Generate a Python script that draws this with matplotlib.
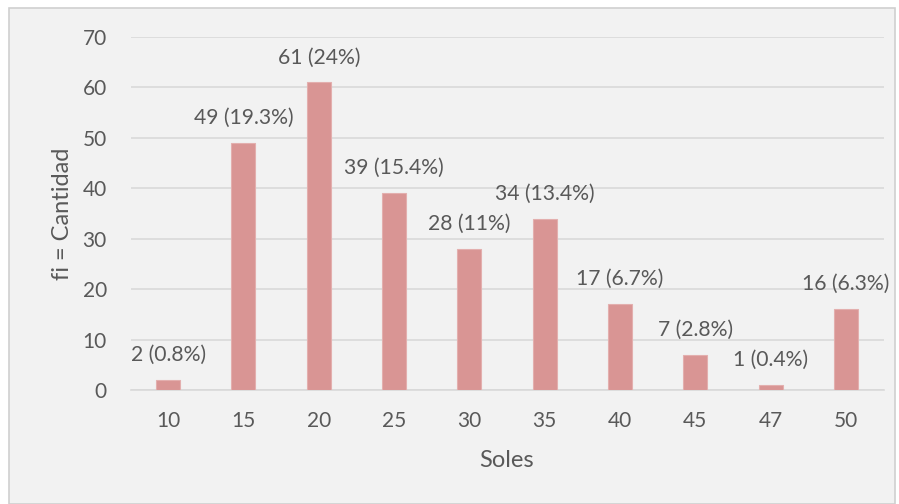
#!/usr/bin/env python3
# Bar chart de frecuencias (fi) por monto en soles, estilo Excel.
import matplotlib

matplotlib.use("Agg")
import matplotlib.pyplot as plt
from matplotlib.patches import Rectangle

categorias = ["10", "15", "20", "25", "30", "35", "40", "45", "47", "50"]
cantidades = [2, 49, 61, 39, 28, 34, 17, 7, 1, 16]
porcentajes = ["0.8%", "19.3%", "24%", "15.4%", "11%", "13.4%", "6.7%", "2.8%", "0.4%", "6.3%"]
y_ticks = [0, 10, 20, 30, 40, 50, 60, 70]

BAR_COLOR = "#D99594"
TEXT_COLOR = "#595959"
GRID_COLOR = "#D9D9D9"
BG_COLOR = "#F2F2F2"

plt.rcParams["font.family"] = ["Lato", "DejaVu Sans"]

W, H = 899, 504
fig = plt.figure(figsize=(W / 100, H / 100), dpi=100)
fig.patch.set_facecolor("white")

# marco gris claro del area del grafico
marco = Rectangle((9 / W, 0), (895 - 9) / W, (H - 8) / H, transform=fig.transFigure,
                  facecolor=BG_COLOR, edgecolor="#D0D0D0", linewidth=1.2, zorder=-5)
fig.add_artist(marco)

ax = fig.add_axes([130.5 / W, (H - 390) / H, 753 / W, (390 - 37) / H])
ax.set_facecolor("none")
ax.set_zorder(2)

x = list(range(len(categorias)))
ax.bar(x, cantidades, width=0.32, color=BAR_COLOR, edgecolor="#E3AFAE",
       linewidth=0.8, zorder=3)

for xi, val, pct in zip(x, cantidades, porcentajes):
    ax.annotate(f"{val} ({pct})", (xi, val), xytext=(0, 25), textcoords="offset pixels",
                ha="center", va="center", fontsize=15.2, color=TEXT_COLOR, zorder=4)

ax.set_xlim(-0.5, len(categorias) - 0.5)
ax.set_ylim(0, 70)
ax.set_yticks(y_ticks)
ax.set_xticks(x)
ax.set_xticklabels(categorias)
ax.tick_params(axis="both", length=0, labelsize=15, labelcolor=TEXT_COLOR)
ax.tick_params(axis="y", pad=17)
ax.tick_params(axis="x", pad=15)

ax.grid(axis="y", color=GRID_COLOR, linewidth=1.2, zorder=0)
ax.set_axisbelow(True)
for side in ["top", "right", "left"]:
    ax.spines[side].set_visible(False)
ax.spines["bottom"].set_color(GRID_COLOR)
ax.spines["bottom"].set_linewidth(1.2)

ax.set_xlabel("Soles", fontsize=17, color=TEXT_COLOR, labelpad=14)
ax.set_ylabel("fi = Cantidad", fontsize=17, color=TEXT_COLOR, labelpad=7)

fig.savefig("out.png", dpi=100)
